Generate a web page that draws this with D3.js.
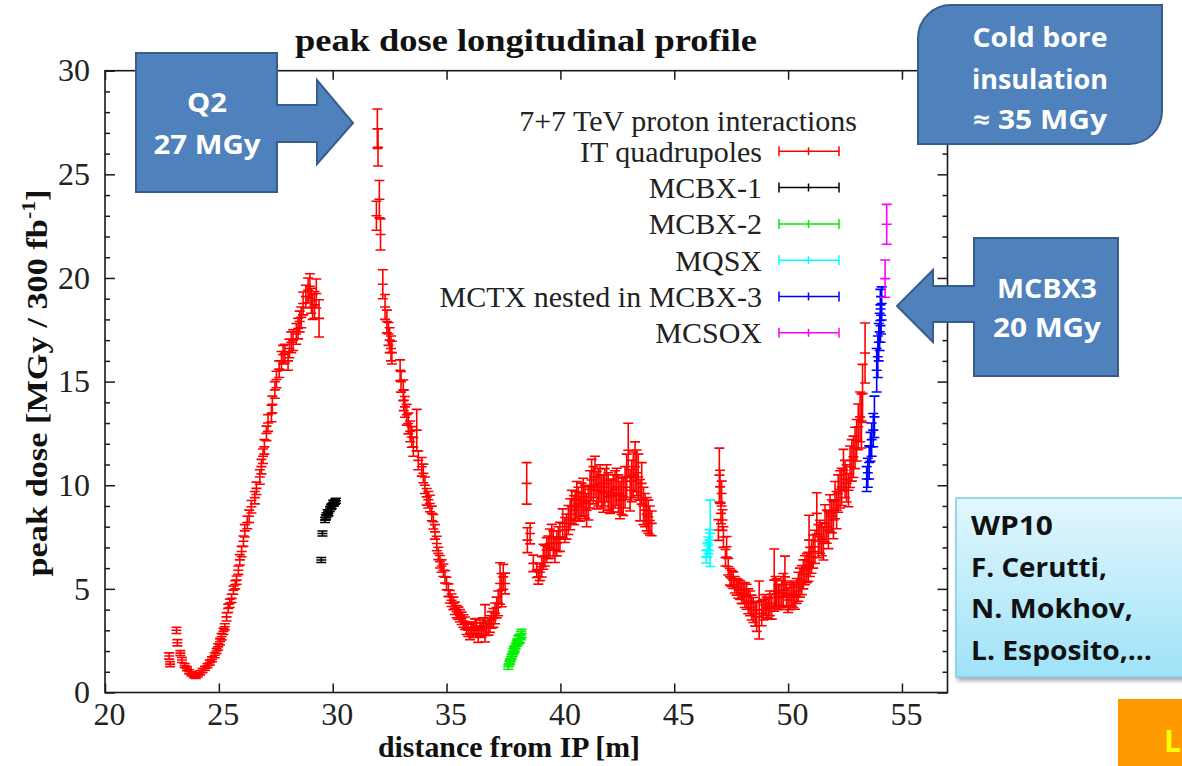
<!DOCTYPE html>
<html><head><meta charset="utf-8">
<script src="https://cdn.jsdelivr.net/npm/d3@7"></script>
<style>
html,body{margin:0;padding:0;background:#fff;}
svg{display:block;}
</style></head>
<body>
<svg id="chart" width="1182" height="766"></svg>
<script>
// ---------------- DATA ----------------
const chartTitle = "peak dose longitudinal profile";
const xAxisTitle = "distance from IP [m]";
const xTicks = [20, 25, 30, 35, 40, 45, 50, 55];
const yTicks = [0, 5, 10, 15, 20, 25, 30];
const legendHeader = "7+7 TeV proton interactions";
const seriesNames = ["IT quadrupoles", "MCBX-1", "MCBX-2", "MQSX", "MCTX nested in MCBX-3", "MCSOX"];
const seriesColors = ["#ff0000", "#000000", "#00ee00", "#00ffff", "#0000ff", "#ff00ff"];

// IT quadrupoles: [x (m), dose (MGy), error]
const itQuadX = [22.82,22.86,23.14,23.18,23.31,23.38,23.5,23.6,23.7,23.8,23.9,23.99,24.08,24.17,24.28,24.39,24.5,24.6,24.7,24.82,24.9,24.97,25.05,25.12,25.2,25.26,25.34,25.41,25.48,25.56,25.64,25.72,25.78,25.86,25.92,26.0,26.08,26.14,26.25,26.33,26.43,26.58,26.65,26.8,26.87,26.94,27.0,27.09,27.16,27.31,27.35,27.46,27.53,27.65,27.75,27.82,27.9,28.04,28.1,28.18,28.26,28.4,28.48,28.55,28.62,28.7,28.82,28.92,29.0,29.06,29.12,29.2,29.28,29.4,
 31.92,31.96,31.99,32.05,32.1,32.2,32.3,32.38,32.45,32.5,32.56,32.6,32.96,33.0,33.1,33.12,33.17,33.25,33.32,33.4,33.47,33.54,33.69,33.76,33.91,33.98,34.05,34.13,34.2,34.27,34.35,34.42,34.49,34.57,34.64,34.71,34.78,34.86,34.93,35.0,35.08,35.15,35.22,35.3,35.37,35.45,35.52,35.59,35.66,35.74,35.81,35.88,35.95,36.03,36.1,36.17,36.25,36.32,36.39,36.47,36.54,36.61,36.69,36.76,36.84,36.91,36.98,37.06,37.13,37.2,37.27,37.35,37.42,37.49,37.57,
 38.52,38.55,38.67,38.81,38.96,39.03,39.1,39.18,39.25,39.32,39.4,39.47,39.54,39.62,39.69,39.76,39.84,39.91,39.98,40.1,40.2,40.27,40.35,40.43,40.5,40.6,40.65,40.72,40.79,40.86,40.93,41.0,41.08,41.15,41.23,41.3,41.37,41.45,41.52,41.6,41.67,41.74,41.81,41.88,41.95,42.03,42.1,42.18,42.25,42.32,42.4,42.47,42.55,42.62,42.69,42.76,42.84,42.91,42.98,43.06,43.13,43.2,43.28,43.35,43.42,43.5,43.57,43.65,43.72,43.79,43.86,43.93,44.01,
 46.94,46.98,47.01,47.08,47.05,47.12,47.16,47.3,47.25,47.37,47.45,47.52,47.59,47.66,47.74,47.81,47.89,47.96,48.03,48.1,48.18,48.25,48.33,48.4,48.47,48.55,48.62,48.73,48.84,48.91,48.99,49.06,49.13,49.2,49.28,49.39,49.45,49.5,49.57,49.64,49.72,49.79,49.86,49.93,50.0,50.08,50.16,50.23,50.3,50.38,50.45,50.52,50.6,50.67,50.74,50.82,50.89,50.92,50.96,51.03,51.1,51.18,51.26,51.33,51.4,51.48,51.55,51.62,51.7,51.77,51.84,51.92,51.99,52.06,52.13,52.2,52.28,52.35,52.43,52.5,52.57,52.65,52.72,52.8,52.87,52.94,53.01,53.08,53.16,53.22,53.27,53.38];
const itQuadY = [1.76,1.37,3.0,2.4,1.9,1.57,1.3,1.15,1.0,0.9,0.82,0.78,0.85,0.95,1.05,1.17,1.3,1.44,1.6,1.8,2.0,2.2,2.45,2.69,2.95,3.17,3.65,4.06,4.3,4.54,4.94,5.2,5.42,5.9,6.4,6.8,7.3,7.8,8.2,8.5,8.96,9.4,9.85,10.4,10.9,11.4,11.85,12.5,13.0,13.46,13.9,14.6,15.1,15.6,16.0,16.3,16.35,16.0,16.6,16.9,17.0,17.3,17.56,17.9,18.1,18.77,19.1,19.4,19.6,18.9,18.6,18.7,19.25,18.05,
 23.0,27.2,26.3,23.8,22.1,19.7,18.6,17.9,17.3,17.0,16.6,16.4,15.55,14.99,14.58,14.1,13.78,13.4,12.98,12.6,12.33,11.85,12.66,11.2,10.89,10.57,10.0,9.44,9.3,9.12,8.64,8.24,7.75,7.19,6.71,6.31,6.1,5.9,5.58,5.26,4.94,4.62,4.45,4.3,4.06,3.9,3.82,3.7,3.58,3.45,3.34,3.1,3.0,2.85,3.1,3.01,3.2,3.17,2.77,3.1,3.01,3.2,3.34,3.1,3.17,3.3,3.5,3.6,3.82,4.1,4.3,5.26,4.94,5.58,5.26,
 10.09,7.35,7.67,6.23,5.9,5.58,5.8,6.07,6.55,6.6,6.87,7.0,7.19,7.51,7.2,6.87,7.19,7.4,7.51,8.16,7.84,8.0,8.32,8.6,8.96,8.8,9.0,9.28,9.1,8.96,9.3,9.44,9.2,8.8,9.12,9.8,10.25,10.0,10.4,9.76,9.9,10.09,9.7,9.6,9.9,10.09,9.7,9.44,9.5,9.6,9.8,9.92,9.6,9.28,9.5,9.44,9.9,10.4,11.69,9.76,10.2,10.5,10.89,10.6,10.4,9.28,10.09,9.0,8.8,8.6,8.48,8.3,8.16,
 7.84,10.49,9.92,9.6,8.64,8.32,7.5,7.03,6.5,6.07,5.58,5.5,5.42,5.2,5.1,5.0,4.94,4.8,4.78,4.7,4.62,4.4,4.3,4.1,3.98,3.8,3.65,3.98,3.82,4.0,4.22,4.1,4.06,4.3,4.14,5.42,4.9,4.78,4.6,4.62,4.8,4.94,5.58,4.7,4.46,4.6,4.78,4.7,4.62,4.9,5.1,5.3,5.42,5.7,5.9,6.0,6.07,7.35,6.3,6.55,6.8,7.03,8.64,7.3,7.51,7.4,7.19,8.16,8.0,7.84,8.64,8.5,8.32,9.28,8.8,9.6,9.8,9.92,10.73,10.3,10.09,9.76,10.89,11.2,11.37,11.8,12.17,12.82,13.3,13.1,14.43,16.38];
const itQuadErr = [0.15,0.12,0.15,0.15,0.12,0.12,0.1,0.1,0.1,0.1,0.1,0.1,0.1,0.1,0.1,0.1,0.1,0.12,0.12,0.12,0.12,0.15,0.15,0.15,0.15,0.15,0.2,0.2,0.2,0.2,0.2,0.2,0.2,0.2,0.25,0.25,0.25,0.3,0.3,0.3,0.3,0.3,0.3,0.35,0.35,0.35,0.35,0.35,0.4,0.4,0.4,0.4,0.4,0.4,0.45,0.45,0.45,0.45,0.45,0.5,0.5,0.5,0.5,0.5,0.5,0.55,0.55,0.6,0.6,0.6,0.6,0.65,0.7,0.9,
 0.7,0.95,0.9,0.9,0.75,0.7,0.6,0.55,0.55,0.6,0.6,0.55,0.5,0.5,0.5,0.5,0.5,0.5,0.5,0.5,0.5,0.45,1.0,0.45,0.45,0.45,0.4,0.4,0.4,0.4,0.35,0.35,0.35,0.35,0.3,0.3,0.3,0.3,0.3,0.3,0.3,0.3,0.3,0.3,0.3,0.3,0.3,0.3,0.3,0.3,0.3,0.3,0.3,0.3,0.3,0.35,0.35,0.4,0.35,0.4,0.35,0.4,0.9,0.35,0.4,0.4,0.4,0.45,0.5,0.5,0.6,1.0,0.8,0.6,0.5,
 1.0,0.6,0.5,0.4,0.35,0.35,0.4,0.5,0.6,0.5,0.6,0.55,0.7,0.6,0.6,0.6,0.6,0.6,0.7,0.7,0.6,0.6,0.7,0.75,0.8,0.7,0.7,0.9,0.8,0.7,0.8,0.9,0.8,0.8,0.8,0.9,1.0,0.9,1.0,0.9,0.9,0.9,0.8,0.9,0.9,0.9,0.9,0.8,0.8,0.9,0.9,0.9,0.9,0.9,0.9,0.9,1.0,1.1,1.3,1.0,1.0,1.1,1.2,1.1,1.1,1.0,1.0,0.9,0.8,0.8,0.8,0.7,0.6,
 0.5,1.3,0.8,0.6,0.5,0.5,0.5,0.5,0.4,0.4,0.4,0.4,0.4,0.4,0.4,0.45,0.45,0.5,0.5,0.6,0.6,0.6,0.6,0.6,0.6,0.6,0.7,1.4,0.6,0.5,0.5,0.5,0.5,0.6,0.6,1.5,0.7,0.7,0.6,0.6,0.6,0.8,1.0,0.6,0.6,0.6,0.6,0.6,0.6,0.6,0.7,0.7,0.7,0.7,0.7,0.7,0.7,1.2,0.7,0.8,0.8,0.8,1.0,0.8,0.8,0.8,0.8,0.9,0.8,0.9,0.9,0.8,0.9,0.9,0.9,0.9,0.9,0.9,1.0,0.9,0.9,0.8,1.0,1.0,1.0,1.0,1.0,1.1,1.2,1.3,1.4,1.45];

const mcbx1X = [29.5,29.55,29.66,29.7,29.73,29.78,29.81,29.88,29.93,29.96,30.02,30.06,30.1,30.14];
const mcbx1Y = [6.39,7.67,8.32,8.45,8.55,8.7,8.64,8.85,8.95,9.0,9.15,9.12,9.2,9.25];
const mcbx1Err = [0.12,0.12,0.12,0.12,0.12,0.12,0.12,0.12,0.12,0.12,0.12,0.12,0.12,0.12];

const mcbx2X = [37.71,37.75,37.79,37.83,37.86,37.9,37.93,37.97,38.0,38.04,38.08,38.12,38.15,38.19,38.23,38.27,38.3];
const mcbx2Y = [1.24,1.4,1.49,1.62,1.73,1.85,1.97,2.05,2.13,2.25,2.37,2.45,2.53,2.58,2.61,2.75,2.85];
const mcbx2Err = [0.12,0.12,0.12,0.12,0.12,0.12,0.15,0.15,0.15,0.15,0.15,0.15,0.2,0.2,0.2,0.2,0.2];

const mqsxX = [46.4,46.45,46.5,46.54,46.58];
const mqsxY = [6.55,6.87,7.1,7.35,7.68];
const mqsxErr = [0.3,0.35,0.4,0.5,1.6];

const mctxX = [53.45,53.5,53.56,53.62,53.67,53.74,53.79,53.89,53.94,53.98,54.02,54.06,54.08,54.11,54.05];
const mctxY = [10.3,10.6,11.1,11.85,12.2,12.66,13.3,15.55,16.2,16.9,17.4,17.7,18.2,18.77,18.7];
const mctxErr = [0.6,0.7,0.8,0.7,0.8,0.8,1.0,1.05,1.0,0.9,0.9,0.8,0.9,0.8,0.75];

const mcsoxX = [54.26,54.33];
const mcsoxY = [19.97,22.59];
const mcsoxErr = [0.9,0.96];

// annotation texts
const q2Lines = ["Q2", "27 MGy"];
const coldLines = ["Cold bore", "insulation", "\u2248 35 MGy"];
const mcbx3Lines = ["MCBX3", "20 MGy"];
const creditLines = ["WP10", "F. Cerutti,", "N. Mokhov,", "L. Esposito,\u2026"];

// ---------------- DRAW ----------------
const svg = d3.select("#chart");
const L = 105, R = 947.5, T = 70.7, B = 692.5;
const x = d3.scaleLinear().domain([20, 57]).range([L, R]);
const y = d3.scaleLinear().domain([0, 30]).range([B, T]);
const serif = "'Liberation Serif', 'Times New Roman', serif";
const sans = "'Open Sans', Lato, sans-serif";
const axisColor = "#1a1a1a";

const defs = svg.append("defs");
const grad = defs.append("linearGradient").attr("id", "cyanGrad").attr("x1", 0).attr("y1", 0).attr("x2", 0).attr("y2", 1);
grad.append("stop").attr("offset", "0%").attr("stop-color", "#e2f7fd");
grad.append("stop").attr("offset", "100%").attr("stop-color", "#9fe2f7");
const sh = defs.append("filter").attr("id", "shadow").attr("x", "-10%").attr("y", "-10%").attr("width", "130%").attr("height", "130%");
sh.append("feDropShadow").attr("dx", 2).attr("dy", 3).attr("stdDeviation", 2).attr("flood-color", "#000").attr("flood-opacity", 0.35);

// frame
svg.append("rect").attr("x", L).attr("y", T).attr("width", R - L).attr("height", B - T)
  .attr("fill", "none").attr("stroke", axisColor).attr("stroke-width", 1.6);

function styleAxis(g) {
  g.select(".domain").remove();
  g.selectAll(".tick line").attr("stroke", axisColor).attr("stroke-width", 1.5);
  g.selectAll(".tick text").attr("font-family", serif).attr("font-size", 32).attr("fill", "#222");
}
// bottom axis
svg.append("g").attr("transform", `translate(0,${B})`)
  .call(d3.axisBottom(x).tickValues(xTicks).tickSizeInner(-9).tickSizeOuter(0).tickPadding(10).tickFormat(d3.format("d")))
  .call(styleAxis).call(g => g.selectAll(".tick text").attr("dx", 4));
// top axis
svg.append("g").attr("transform", `translate(0,${T})`)
  .call(d3.axisTop(x).tickValues(xTicks).tickSizeInner(-9).tickSizeOuter(0).tickFormat(""))
  .call(styleAxis);
// left axis
svg.append("g").attr("transform", `translate(${L},0)`)
  .call(d3.axisLeft(y).tickValues(yTicks).tickSizeInner(-10).tickSizeOuter(0).tickPadding(15).tickFormat(d3.format("d")))
  .call(styleAxis);
const minorY = d3.range(1, 30).filter(v => v % 5 !== 0);
svg.append("g").attr("transform", `translate(${L},0)`)
  .call(d3.axisLeft(y).tickValues(minorY).tickSizeInner(-5).tickSizeOuter(0).tickFormat(""))
  .call(styleAxis);
// right axis
svg.append("g").attr("transform", `translate(${R},0)`)
  .call(d3.axisRight(y).tickValues(yTicks).tickSizeInner(-10).tickSizeOuter(0).tickFormat(""))
  .call(styleAxis);
svg.append("g").attr("transform", `translate(${R},0)`)
  .call(d3.axisRight(y).tickValues(minorY).tickSizeInner(-5).tickSizeOuter(0).tickFormat(""))
  .call(styleAxis);

// titles
svg.append("text").attr("x", 526).attr("y", 51).attr("text-anchor", "middle")
  .attr("font-family", serif).attr("font-weight", "bold").attr("font-size", 31)
  .attr("textLength", 462).attr("lengthAdjust", "spacingAndGlyphs").attr("fill", "#111").text(chartTitle);
svg.append("text").attr("x", 509).attr("y", 757).attr("text-anchor", "middle")
  .attr("font-family", serif).attr("font-weight", "bold").attr("font-size", 29)
  .attr("textLength", 262).attr("lengthAdjust", "spacingAndGlyphs").attr("fill", "#111").text(xAxisTitle);
const yl = svg.append("text").attr("transform", "translate(47,383) rotate(-90)").attr("text-anchor", "middle")
  .attr("font-family", serif).attr("font-weight", "bold").attr("font-size", 30).attr("fill", "#111")
  .attr("textLength", 387).attr("lengthAdjust", "spacingAndGlyphs");
yl.append("tspan").text("peak dose [MGy / 300 fb");
yl.append("tspan").attr("font-size", 19).attr("dy", -12).text("-1");
yl.append("tspan").attr("dy", 12).text("]");

// error bars
const cap = 5;
function errPath(xv, yv, ev) {
  const px = x(xv), py = y(yv), t = y(yv + ev), b = y(yv - ev);
  return `M${px - cap},${t}H${px + cap}M${px},${t}V${b}M${px - cap},${b}H${px + cap}M${px - cap},${py}H${px + cap}`;
}
function drawSeries(xs, ys, es, color) {
  const g = svg.append("g");
  g.selectAll("path").data(xs.map((v, i) => [v, ys[i], es[i]])).join("path")
    .attr("d", d => errPath(d[0], d[1], d[2]))
    .attr("fill", "none").attr("stroke", color).attr("stroke-width", 1.6);
}
drawSeries(itQuadX, itQuadY, itQuadErr, seriesColors[0]);
drawSeries(mcbx1X, mcbx1Y, mcbx1Err, seriesColors[1]);
drawSeries(mcbx2X, mcbx2Y, mcbx2Err, seriesColors[2]);
drawSeries(mqsxX, mqsxY, mqsxErr, seriesColors[3]);
drawSeries(mctxX, mctxY, mctxErr, seriesColors[4]);
drawSeries(mcsoxX, mcsoxY, mcsoxErr, seriesColors[5]);

// legend
const lg = svg.append("g");
lg.append("text").attr("x", 857).attr("y", 131).attr("text-anchor", "end")
  .attr("font-family", serif).attr("font-size", 30).attr("fill", "#222").text(legendHeader);
seriesNames.forEach((n, i) => {
  const ly = 151.3 + i * 36.3;
  lg.append("text").attr("x", 762).attr("y", ly + 10.5).attr("text-anchor", "end")
    .attr("font-family", serif).attr("font-size", 30).attr("fill", "#222").text(n);
  lg.append("path").attr("d", `M779,${ly}H839M779,${ly - 5}V${ly + 5}M839,${ly - 5}V${ly + 5}M808.5,${ly - 4}V${ly + 4}`)
    .attr("fill", "none").attr("stroke", seriesColors[i]).attr("stroke-width", 1.5);
});

// callouts
const blue = "#4f81bd", blueStroke = "#385d8a";
svg.append("path").attr("d", "M136,53H277V105H317V80L353,123L317,164V142H277V192H136Z")
  .attr("fill", blue).attr("stroke", blueStroke).attr("stroke-width", 2);
svg.append("path").attr("d", "M951,5H1162V111A33,33 0 0 1 1129,144H918V38A33,33 0 0 1 951,5Z")
  .attr("fill", blue).attr("stroke", blueStroke).attr("stroke-width", 2);
svg.append("path").attr("d", "M974,238H1118V376H974V322H933V342L897,306L933,270V286H974Z")
  .attr("fill", blue).attr("stroke", blueStroke).attr("stroke-width", 2);

function calloutText(lines, cx, ys, widths) {
  lines.forEach((t, i) => {
    svg.append("text").attr("x", cx).attr("y", ys[i]).attr("text-anchor", "middle")
      .attr("font-family", sans).attr("font-weight", "bold").attr("font-size", 26).attr("fill", "#fff")
      .attr("textLength", widths[i]).attr("lengthAdjust", "spacingAndGlyphs").text(t);
  });
}
calloutText(q2Lines, 207, [112, 154], [40, 107]);
calloutText(coldLines, 1040, [47, 89, 129], [135, 136, 134]);
calloutText(mcbx3Lines, 1047, [298, 337], [100, 108]);

// credits box
svg.append("rect").attr("x", 956).attr("y", 498).attr("width", 240).attr("height", 179)
  .attr("fill", "url(#cyanGrad)").attr("stroke", "#80cde3").attr("stroke-width", 1.5).attr("filter", "url(#shadow)");
const cw = [82, 136, 162, 181];
creditLines.forEach((t, i) => {
  svg.append("text").attr("x", 971).attr("y", 535 + i * 41.7)
    .attr("font-family", sans).attr("font-weight", "bold").attr("font-size", 27).attr("fill", "#111")
    .attr("textLength", cw[i]).attr("lengthAdjust", "spacingAndGlyphs").text(t);
});

// orange corner
svg.append("rect").attr("x", 1118).attr("y", 699).attr("width", 70).attr("height", 70).attr("fill", "#ff9900");
svg.append("text").attr("x", 1164).attr("y", 752).attr("font-family", sans).attr("font-weight", "bold")
  .attr("font-size", 30).attr("fill", "#ffff00").text("L");
</script>
</body></html>
